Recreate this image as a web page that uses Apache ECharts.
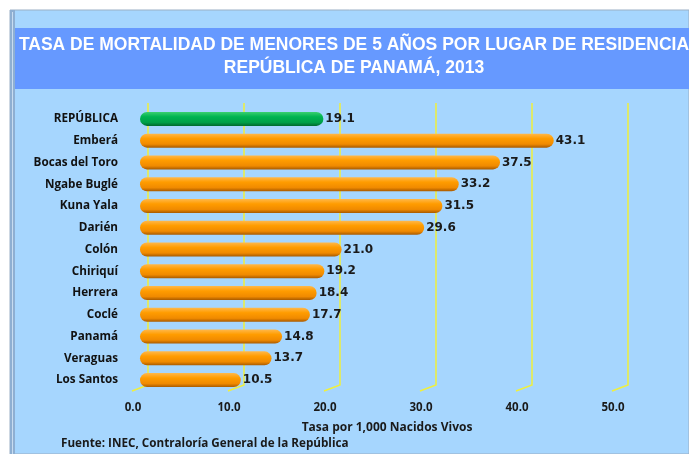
<!DOCTYPE html>
<html>
<head>
<meta charset="utf-8">
<script src="https://cdn.jsdelivr.net/npm/echarts@6/dist/echarts.min.js"></script>
<style>html,body{margin:0;padding:0;background:#fff}#c{width:689px;height:454px}</style>
</head>
<body>
<div id="c"></div>
<script>
var categories = ['REPÚBLICA','Emberá','Bocas del Toro','Ngabe Buglé','Kuna Yala','Darién','Colón','Chiriquí','Herrera','Coclé','Panamá','Veraguas','Los Santos'];
var values = [19.1,43.1,37.5,33.2,31.5,29.6,21.0,19.2,18.4,17.7,14.8,13.7,10.5];
var ticks = [0,10,20,30,40,50];
var titleLines = ['TASA DE MORTALIDAD DE MENORES DE 5 AÑOS POR LUGAR DE RESIDENCIA','REPÚBLICA DE PANAMÁ, 2013'];
var axisName = 'Tasa por 1,000 Nacidos Vivos';
var source = 'Fuente: INEC, Contraloría General de la República';

var orange = {type:'linear',x:0,y:0,x2:0,y2:1,colorStops:[{offset:0,color:'#FFB84A'},{offset:0.35,color:'#FF9C00'},{offset:0.75,color:'#F08A00'},{offset:1,color:'#A85A00'}]};
var green = {type:'linear',x:0,y:0,x2:0,y2:1,colorStops:[{offset:0,color:'#3CD070'},{offset:0.35,color:'#00B450'},{offset:0.75,color:'#00A048'},{offset:1,color:'#006B2E'}]};

var chart = echarts.init(document.getElementById('c'), null, {renderer:'canvas'});
chart.setOption({
  animation:false,
  backgroundColor:'#ffffff',
  graphic:[
    {type:'rect',z:-10,shape:{x:10,y:10,width:679,height:444},style:{fill:'#A6D6FE',stroke:'#9AAFC4',lineWidth:1}},
    {type:'rect',z:-9,shape:{x:10,y:10,width:5,height:444},style:{fill:'#8EAFD2'}},
    {type:'rect',z:-9,shape:{x:12,y:12,width:1,height:442},style:{fill:'#C8DCF0'}},
    {type:'rect',z:-8,shape:{x:15,y:28,width:674,height:61},style:{fill:'#6699FF'}},
    {type:'text',z:-7,style:{x:354,y:45,text:titleLines[0],fill:'#ffffff',font:'bold 17.5px "Liberation Sans", Arial, sans-serif',align:'center',verticalAlign:'middle'}},
    {type:'text',z:-7,style:{x:354,y:68,text:titleLines[1],fill:'#ffffff',font:'bold 17.5px "Liberation Sans", Arial, sans-serif',align:'center',verticalAlign:'middle'}},
    {type:'text',style:{x:61,y:444,text:source,fill:'#1a1a1a',font:'bold 11.7px "Open Sans", sans-serif',align:'left',verticalAlign:'middle'}}
  ],
  grid:{left:140,top:108,width:480,height:283,containLabel:false},
  xAxis:{
    type:'value',min:0,max:50,interval:10,
    axisLine:{show:false},axisTick:{show:false},splitLine:{show:false},
    axisLabel:{formatter:function(v){return v.toFixed(1);},color:'#1a1a1a',fontFamily:'Open Sans',fontWeight:'bold',fontSize:11.5,margin:11,padding:[0,14,0,0]},
    name:axisName,nameLocation:'middle',nameGap:31,
    nameTextStyle:{color:'#1a1a1a',fontFamily:'Open Sans',fontWeight:'bold',fontSize:12,padding:[0,0,0,14]}
  },
  yAxis:{
    type:'category',data:categories,inverse:true,
    axisLine:{show:false},axisTick:{show:false},
    axisLabel:{color:'#111',fontFamily:'Open Sans',fontWeight:'bold',fontSize:11.7,margin:22}
  },
  series:[
    {
      type:'custom',z:1,silent:true,
      data:ticks.map(function(t){return [t];}),
      encode:{x:0},
      renderItem:function(params,api){
        var cs=params.coordSys;
        var x=api.coord([api.value(0),0])[0];
        var top=cs.y-5, bot=cs.y+cs.height-6;
        return {type:'polyline',shape:{points:[[x+8,top],[x+8,bot],[x-8,bot+6]]},style:{stroke:'#F0F03C',lineWidth:1.5,fill:null}};
      }
    },
    {
      type:'bar',z:3,barWidth:14,
      data:values.map(function(v,i){return {value:v,itemStyle:{color:i===0?green:orange}};}),
      itemStyle:{borderRadius:7},
      label:{show:true,position:'right',distance:2,formatter:function(p){return p.value.toFixed(1);},color:'#1a1a1a',fontFamily:'DejaVu Sans',fontWeight:'bold',fontSize:12}
    }
  ]
});
</script>
</body>
</html>
